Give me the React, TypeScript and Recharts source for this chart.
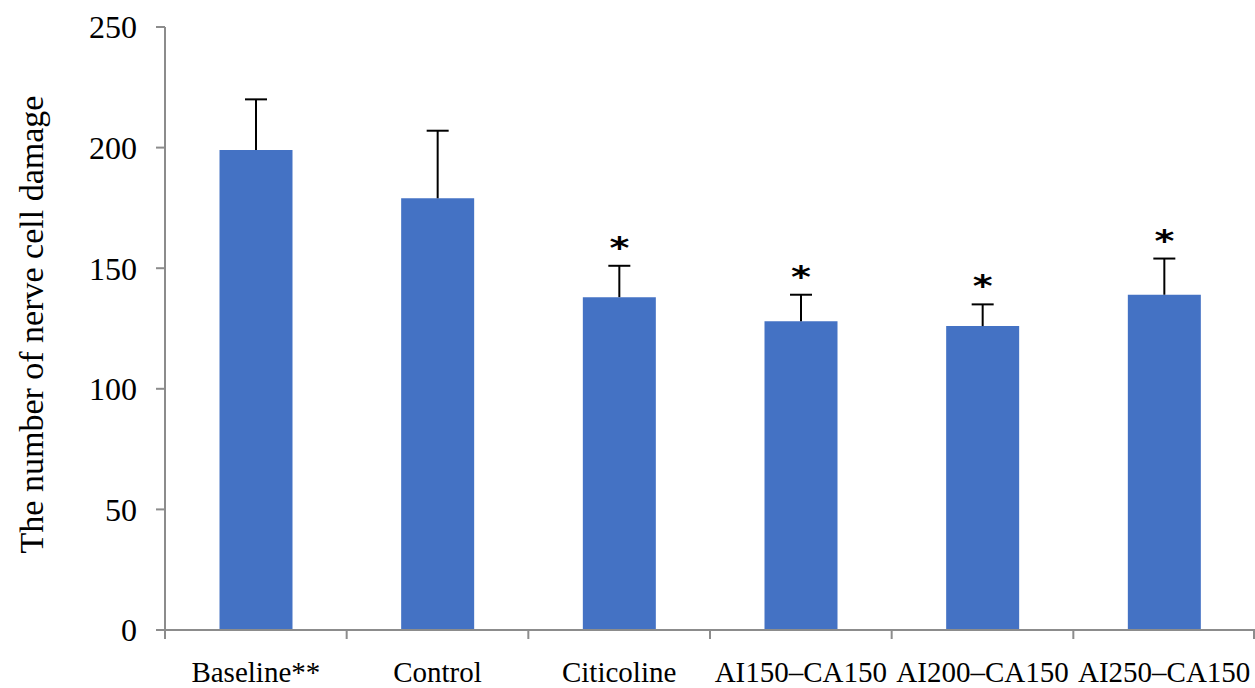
import React from "react";
import { BarChart, Bar, XAxis, YAxis, LabelList } from "recharts";

const categories = ["Baseline**", "Control", "Citicoline", "AI150–CA150", "AI200–CA150", "AI250–CA150"];
const means = [199, 179, 138, 128, 126, 139];
const errors = [21, 28, 13, 11, 9, 15];
const marks = ["", "", "*", "*", "*", "*"];
const yTicks = [0, 50, 100, 150, 200, 250];

const data = categories.map((name, i) => ({ name, value: means[i], err: errors[i], sig: marks[i] }));

const AXIS = "#8c8c8c";
const FONT = "'Liberation Serif', 'DejaVu Serif', serif";
const X_TICK_MARGIN = 34;

const ErrShape = (props: any) => {
  const { x, y, width, height } = props;
  const cx = x + width / 2;
  return (
    <g>
      <line x1={cx} x2={cx} y1={y} y2={y + height} stroke="#000" strokeWidth={2} />
      <line x1={cx - 11} x2={cx + 11} y1={y} y2={y} stroke="#000" strokeWidth={2} />
    </g>
  );
};

const XTick = (props: any) => {
  const { x, y, payload, index, visibleTicksCount } = props;
  const off = payload && payload.offset != null ? payload.offset : 0;
  const axisY = y - X_TICK_MARGIN;
  const isLast = index === (visibleTicksCount ?? categories.length) - 1;
  return (
    <g>
      <line x1={x - off} x2={x - off} y1={axisY} y2={axisY + 9} stroke={AXIS} strokeWidth={2} />
      {isLast && <line x1={x + off - 1} x2={x + off - 1} y1={axisY} y2={axisY + 9} stroke={AXIS} strokeWidth={2} />}
      <text x={x} y={axisY + 52} textAnchor="middle" fontSize={29} fontFamily={FONT} fill="#000">
        {payload.value}
      </text>
    </g>
  );
};

const StarLabel = (props: any) => {
  const { x, y, width, value } = props;
  if (!value) return null;
  const cx = x + width / 2;
  const by = y - 8;
  return (
    <text
      x={cx}
      y={by}
      transform={`translate(${cx}, ${by}) scale(1, 0.8) translate(${-cx}, ${-by})`}
      textAnchor="middle"
      fontSize={38}
      fontWeight="bold"
      fontFamily="'DejaVu Sans', sans-serif"
      fill="#000"
    >
      {value}
    </text>
  );
};

const YLabel = (props: any) => {
  const { viewBox } = props;
  const cx = viewBox.x + 31;
  const cy = viewBox.y + viewBox.height / 2 - 4;
  return (
    <text x={cx} y={cy} transform={`rotate(-90, ${cx}, ${cy})`} textAnchor="middle" dominantBaseline="central" fontSize={34} fontFamily={FONT} fill="#000">
      The number of nerve cell damage
    </text>
  );
};

export default function App() {
  return (
    <div style={{ position: "absolute", left: 0, top: 0, width: 1255, height: 688, background: "#fff" }}>
      <BarChart width={1255} height={688} data={data} margin={{ top: 27, right: 0, left: 0, bottom: 0 }} barCategoryGap="30%">
        <XAxis
          dataKey="name"
          height={58}
          axisLine={{ stroke: AXIS, strokeWidth: 2 }}
          tickLine={false}
          tickSize={0}
          tickMargin={X_TICK_MARGIN}
          interval={0}
          tick={<XTick />}
        />
        <YAxis
          width={165}
          domain={[0, 250]}
          ticks={yTicks}
          interval={0}
          axisLine={{ stroke: AXIS, strokeWidth: 2 }}
          tickLine={{ stroke: AXIS, strokeWidth: 2 }}
          tickSize={9}
          tickMargin={19}
          tick={{ fill: "#000", fontSize: 32, fontFamily: FONT }}
          label={<YLabel />}
        />
        <Bar dataKey="value" stackId="a" fill="#4472C4" isAnimationActive={false} />
        <Bar dataKey="err" stackId="a" fill="transparent" shape={<ErrShape />} isAnimationActive={false}>
          <LabelList dataKey="sig" content={<StarLabel />} />
        </Bar>
      </BarChart>
    </div>
  );
}
